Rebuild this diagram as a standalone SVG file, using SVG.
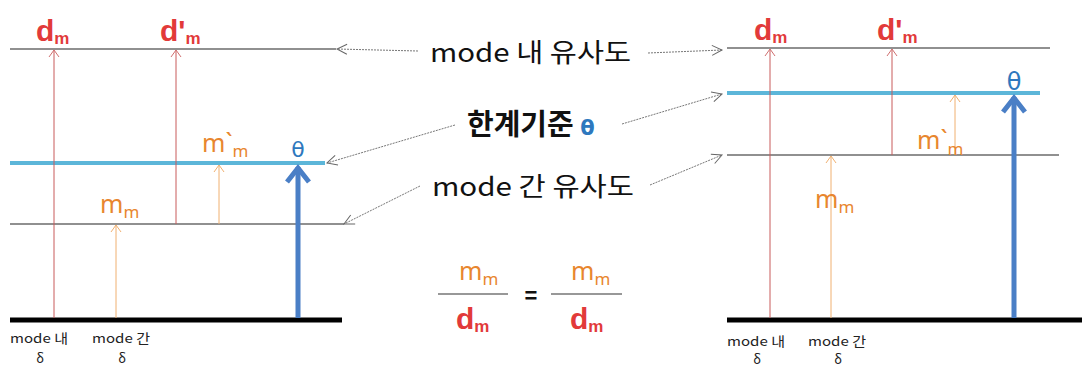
<svg xmlns="http://www.w3.org/2000/svg" width="1082" height="366" viewBox="0 0 1082 366">
<defs>
<marker id="mRed" viewBox="-8 -8 16 16" markerWidth="16" markerHeight="16" refX="0" refY="0" orient="auto" markerUnits="userSpaceOnUse">
<path d="M-7,-5 L0,0 L-7,5" fill="none" stroke="#d07070" stroke-width="1"/>
</marker>
<marker id="mOr" viewBox="-8 -8 16 16" markerWidth="16" markerHeight="16" refX="0" refY="0" orient="auto" markerUnits="userSpaceOnUse">
<path d="M-7,-5 L0,0 L-7,5" fill="none" stroke="#f0b070" stroke-width="1"/>
</marker>
<marker id="mBlue" viewBox="-20 -16 24 32" markerWidth="24" markerHeight="32" refX="0" refY="0" orient="auto" markerUnits="userSpaceOnUse">
<path d="M-15,-11 L-1,0 L-15,11" fill="none" stroke="#4a7fc6" stroke-width="5" stroke-linejoin="miter"/>
</marker>
<marker id="mGray" viewBox="-12 -8 16 16" markerWidth="16" markerHeight="16" refX="0" refY="0" orient="auto" markerUnits="userSpaceOnUse">
<path d="M-10,-5 L0,0 L-10,5" fill="none" stroke="#666" stroke-width="1"/>
</marker>
</defs>
<style>
.ln{stroke:#222;stroke-width:1.2;fill:none}
.cy{stroke:#5cb6d9;stroke-width:4;fill:none}
.base{stroke:#000;stroke-width:5;fill:none}
.ra{stroke:#c85a5a;stroke-width:1;fill:none;marker-end:url(#mRed)}
.oa{stroke:#f0b070;stroke-width:1;fill:none;marker-end:url(#mOr)}
.ba{stroke:#4a7fc6;stroke-width:5;fill:none;marker-end:url(#mBlue)}
.con{stroke:#777;stroke-width:1;stroke-dasharray:2 1;fill:none;marker-end:url(#mGray)}
.d{font-family:"Liberation Sans",Arial,sans-serif;font-weight:bold;fill:#e23a3a}
.m{font-family:"Noto Sans","Noto Sans CJK KR",sans-serif;fill:#e8862e}
.th{font-family:"DejaVu Sans","Noto Sans",sans-serif;fill:#2e78be}
.big{font-family:"Noto Sans CJK KR","Noto Sans",sans-serif;font-size:26px;fill:#111}
.bold{font-family:"Noto Sans CJK KR","Noto Sans",sans-serif;font-size:29px;font-weight:bold;fill:#111}
.sm{font-family:"Noto Sans CJK KR","Noto Sans",sans-serif;font-size:13px;fill:#222}
</style>

<g id="left-panel">
<line class="ln" x1="10" y1="49" x2="336" y2="49"/>
<line class="cy" x1="10" y1="163" x2="325" y2="163"/>
<line class="ln" x1="10" y1="224" x2="344" y2="224"/>
<line class="base" x1="10" y1="320" x2="342" y2="320"/>
</g>

<g id="left-arrows">
<line class="ra" x1="54" y1="318" x2="54" y2="50"/>
<line class="ra" x1="176" y1="224" x2="176" y2="50"/>
<line class="oa" x1="116" y1="318" x2="116" y2="225"/>
<line class="oa" x1="219" y1="224" x2="219" y2="165"/>
<line class="ba" x1="298" y1="318" x2="298" y2="167"/>
</g>

<g id="left-labels">
<text class="d" x="36" y="41" font-size="30">d<tspan font-size="17" dy="3">m</tspan></text>
<text class="d" x="160" y="41" font-size="30">d'<tspan font-size="17" dy="3">m</tspan></text>
<text class="m" x="202" y="152" font-size="25">m`<tspan font-size="17" dy="5">m</tspan></text>
<text class="m" x="100" y="213" font-size="25">m<tspan font-size="17" dy="5">m</tspan></text>
<text class="th" x="298" y="157" font-size="22" text-anchor="middle">θ</text>
<text class="sm" x="10" y="343" textLength="58" lengthAdjust="spacingAndGlyphs">mode 내</text>
<text class="sm" x="40" y="363" text-anchor="middle">δ</text>
<text class="sm" x="92" y="343" textLength="58" lengthAdjust="spacingAndGlyphs">mode 간</text>
<text class="sm" x="122" y="363" text-anchor="middle">δ</text>
</g>

<g id="right-panel">
<line class="ln" x1="727" y1="48" x2="1050" y2="48"/>
<line class="cy" x1="727" y1="93" x2="1040" y2="93"/>
<line class="ln" x1="727" y1="155" x2="1059" y2="155"/>
<line class="base" x1="727" y1="320" x2="1082" y2="320"/>
</g>

<g id="right-arrows">
<line class="ra" x1="770" y1="318" x2="770" y2="49"/>
<line class="ra" x1="892" y1="155" x2="892" y2="49"/>
<line class="oa" x1="831" y1="318" x2="831" y2="156"/>
<line class="oa" x1="955" y1="155" x2="955" y2="95"/>
<line class="ba" x1="1014" y1="318" x2="1014" y2="97"/>
</g>

<g id="right-labels">
<text class="d" x="754" y="40" font-size="30">d<tspan font-size="17" dy="3">m</tspan></text>
<text class="d" x="877" y="40" font-size="30">d'<tspan font-size="17" dy="3">m</tspan></text>
<text class="m" x="917" y="149" font-size="25">m`<tspan font-size="17" dy="6">m</tspan></text>
<text class="m" x="815" y="208" font-size="25">m<tspan font-size="17" dy="5">m</tspan></text>
<text class="th" x="1014" y="90" font-size="24" text-anchor="middle">θ</text>
<text class="sm" x="727" y="346" textLength="58" lengthAdjust="spacingAndGlyphs">mode 내</text>
<text class="sm" x="757" y="364" text-anchor="middle">δ</text>
<text class="sm" x="808" y="346" textLength="58" lengthAdjust="spacingAndGlyphs">mode 간</text>
<text class="sm" x="838" y="364" text-anchor="middle">δ</text>
</g>

<g id="center-labels">
<text class="big" x="430" y="62" textLength="201" lengthAdjust="spacingAndGlyphs">mode 내 유사도</text>
<text class="bold" x="467" y="135">한계기준 <tspan class="th" font-weight="bold" font-size="21">θ</tspan></text>
<text class="big" x="432" y="196" textLength="202" lengthAdjust="spacingAndGlyphs">mode 간 유사도</text>
</g>

<g id="formula">
<text class="m" x="459" y="280" font-size="25">m<tspan font-size="17" dy="5">m</tspan></text>
<line x1="438" y1="294" x2="508" y2="294" stroke="#333" stroke-width="1.2"/>
<text class="d" x="456" y="329" font-size="30">d<tspan font-size="17" dy="3">m</tspan></text>
<text x="531" y="303" font-family="Liberation Sans,Arial,sans-serif" font-size="22" font-weight="bold" text-anchor="middle" fill="#111">=</text>
<text class="m" x="571" y="280" font-size="25">m<tspan font-size="17" dy="5">m</tspan></text>
<line x1="551" y1="294" x2="622" y2="294" stroke="#333" stroke-width="1.2"/>
<text class="d" x="570" y="329" font-size="30">d<tspan font-size="17" dy="3">m</tspan></text>
</g>

<g id="connectors">
<line class="con" x1="418" y1="51" x2="337" y2="49"/>
<line class="con" x1="648" y1="53" x2="722" y2="50"/>
<line class="con" x1="455" y1="125" x2="327" y2="163"/>
<line class="con" x1="622" y1="124" x2="722" y2="94"/>
<line class="con" x1="420" y1="186" x2="344" y2="224"/>
<line class="con" x1="650" y1="185" x2="722" y2="155"/>
</g>
</svg>
